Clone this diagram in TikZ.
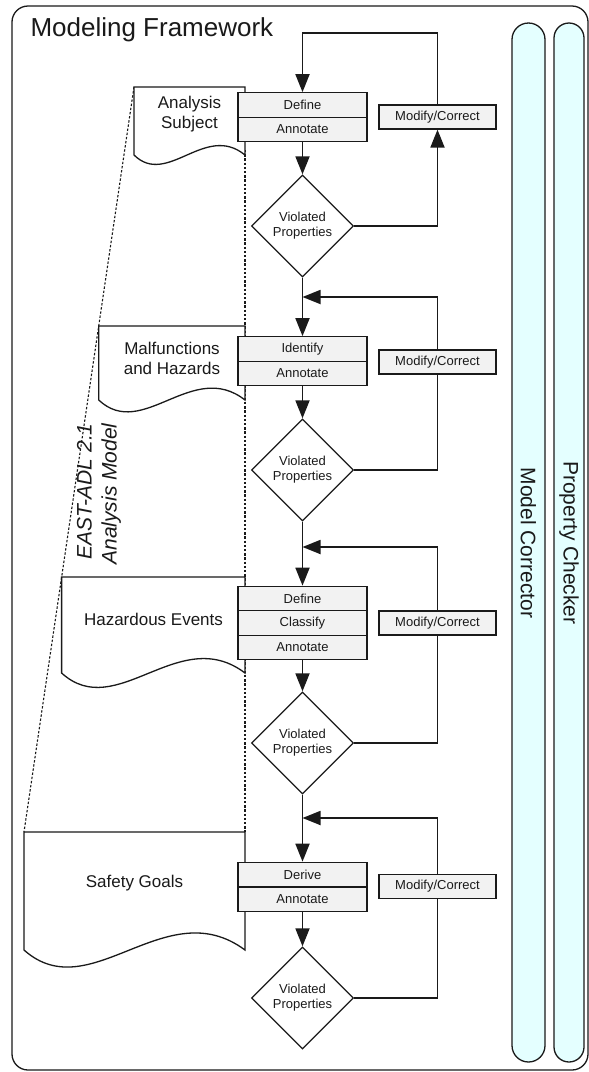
\documentclass[tikz,border=0pt]{standalone}
\usepackage{fontspec}
\setmainfont{Liberation Sans}
\usetikzlibrary{arrows.meta,shapes.geometric}

\definecolor{ink}{HTML}{1A1A1A}
\definecolor{boxgray}{HTML}{F2F2F2}
\definecolor{pillcyan}{HTML}{E4FFFF}

% document shape with a wavy bottom edge: x-left, x-right, top, bottom
\newcommand{\docfig}[4]{%
  \draw[docline] (#1,#4) -- (#1,#3) -- (#2,#3) -- (#2,#4)
    .. controls ({#2-0.36*(#2-#1)},{#4-0.24*(#2-#1)-6})
            and ({#1+0.30*(#2-#1)},{#4+0.24*(#2-#1)+6}) .. (#1,#4) -- cycle;}

\tikzset{
  docline/.style={draw=ink, line width=1.3pt, fill=white, line join=miter},
  doctext/.style={align=center, text=ink, font=\fontsize{17}{20}\selectfont},
  stepbox/.style={draw=ink, line width=1.2pt, fill=boxgray, minimum width=129pt,
    minimum height=24.5pt, inner sep=0pt, text=ink, font=\fontsize{13}{15}\selectfont},
  fixbox/.style={stepbox, minimum width=117pt, minimum height=24pt},
  check/.style={diamond, aspect=1, draw=ink, line width=1.3pt, fill=white,
    minimum width=102pt, minimum height=102pt, inner sep=0pt, align=center,
    text=ink, font=\fontsize{13}{15}\selectfont},
  flow/.style={draw=ink, line width=1.8pt, -{Triangle[length=18pt,width=14pt]}},
  plainflow/.style={draw=ink, line width=1.8pt},
  guide/.style={draw=ink, line width=1.1pt, dash pattern=on 2.4pt off 1.8pt},
  pill/.style={draw=ink, line width=1.3pt, fill=pillcyan},
  pilltext/.style={text=ink, font=\fontsize{21}{25}\selectfont},
}

\begin{document}
\begin{tikzpicture}[x=1pt,y=-1pt]
  \fill[white] (0,0) rectangle (589,1072);
  \useasboundingbox (0,0) rectangle (589,1072);

  % outer frame and title
  \draw[draw=ink, line width=1.3pt, rounded corners=16pt] (12,6) rectangle (588,1070);
  \node[anchor=base west, text=ink, font=\fontsize{26}{30}\selectfont] (title) at (27,36) {Modeling Framework};

  % tool columns
  \draw[pill, rounded corners=16.5pt] (512,23) rectangle (545,1062);
  \draw[pill, rounded corners=15pt] (554,23) rectangle (584,1062);
  \node[pilltext, rotate=-90] (corrector) at (528.5,543) {Model Corrector};
  \node[pilltext, rotate=-90] (checker) at (569,543) {Property Checker};

  % analysis model bracket
  \draw[guide] (134,87) -- (24,832);
  \draw[guide] (245,150) -- (245,832);
  \node[rotate=90, align=right, text=ink, font=\itshape\fontsize{21}{25}\selectfont] (model) at (99,494) {EAST-ADL 2.1\\Analysis Model};

  % model artefacts
  \docfig{134}{245}{87}{155}
  \node[doctext] (subject) at (189.5,114) {Analysis\\Subject};
  \docfig{98.7}{245}{326}{400}
  \node[doctext] (hazards) at (172,358) {Malfunctions\\and Hazards};
  \docfig{61.6}{245}{577}{673}
  \node[doctext] (events) at (153.5,619) {Hazardous Events};
  \docfig{24}{245}{832}{950}
  \node[doctext] (goals) at (134.5,883) {Safety Goals};

  % stage 1
  \node[stepbox] (b1a) at (302.5,105) {Define};
  \node[stepbox] (b1b) at (302.5,129.5) {Annotate};
  \node[fixbox] (m1) at (437.5,117) {Modify/Correct};
  \node[check] (d1) at (302.5,226) {Violated\\Properties};
  \coordinate (t1) at (302.5,33);

  % stage 2
  \node[stepbox] (b2a) at (302.5,349) {Identify};
  \node[stepbox] (b2b) at (302.5,373.5) {Annotate};
  \node[fixbox] (m2) at (437.5,362) {Modify/Correct};
  \node[check] (d2) at (302.5,470) {Violated\\Properties};
  \coordinate (j2) at (302.5,297);

  % stage 3
  \node[stepbox] (b3a) at (302.5,598.5) {Define};
  \node[stepbox] (b3b) at (302.5,623) {Classify};
  \node[stepbox] (b3c) at (302.5,647.5) {Annotate};
  \node[fixbox] (m3) at (437.5,623) {Modify/Correct};
  \node[check] (d3) at (302.5,743) {Violated\\Properties};
  \coordinate (j3) at (302.5,547);

  % stage 4
  \node[stepbox] (b4a) at (302.5,874.5) {Derive};
  \node[stepbox] (b4b) at (302.5,899.5) {Annotate};
  \node[fixbox] (m4) at (437.5,886.5) {Modify/Correct};
  \node[check] (d4) at (302.5,998) {Violated\\Properties};
  \coordinate (j4) at (302.5,818);

  % connectors
  \draw[flow] (m1.north) |- (t1) -- (b1a.north);
  \draw[flow] (b1b.south) -- (d1.north);
  \draw[flow] (d1.east) -| (m1.south);

  \draw[flow] (d1.south) -- (b2a.north);
  \draw[flow] (m2.north) |- (j2);
  \draw[flow] (b2b.south) -- (d2.north);
  \draw[plainflow] (d2.east) -| (m2.south);

  \draw[flow] (d2.south) -- (b3a.north);
  \draw[flow] (m3.north) |- (j3);
  \draw[flow] (b3c.south) -- (d3.north);
  \draw[plainflow] (d3.east) -| (m3.south);

  \draw[flow] (d3.south) -- (b4a.north);
  \draw[flow] (m4.north) |- (j4);
  \draw[flow] (b4b.south) -- (d4.north);
  \draw[plainflow] (d4.east) -| (m4.south);
\end{tikzpicture}
\end{document}
